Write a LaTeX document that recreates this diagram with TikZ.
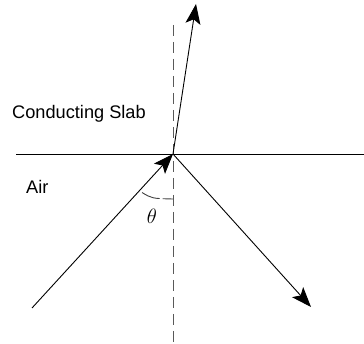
\documentclass[tikz,border=0pt]{standalone}
\usepackage{fontspec}
\setmainfont{Liberation Sans}
\usetikzlibrary{arrows.meta}
\begin{document}
\begin{tikzpicture}[x=1pt,y=-1pt,
  ray/.style={line width=0.9pt,-{Stealth[length=20pt,width=15pt,inset=4.5pt]}},
  plain/.style={line width=0.9pt},
  normal/.style={line width=1pt,draw=black!65,dash pattern=on 11pt off 6pt},
  anglemark/.style={line width=0.9pt,draw=black!75,dash pattern=on 19pt off 3pt},
  lbl/.style={font=\fontsize{18.2}{21}\selectfont,inner sep=0pt}]
\useasboundingbox (0,0) rectangle (364,344);
\coordinate (O) at (173,154);
\coordinate (L) at (16,154);
\coordinate (R) at (364,154);
\coordinate (Ntop) at (173,25);
\coordinate (Nbot) at (173,344);
\coordinate (In) at (32,308);
\coordinate (Refl) at (311,307);
\coordinate (Refr) at (196,4);
\coordinate (A1) at (142,192.5);
\coordinate (A2) at (173,199);
\draw[plain] (L) -- (R);
\draw[normal] (Ntop) -- (Nbot);
\draw[ray] (In) -- (O);
\draw[ray] (O) -- (Refl);
\draw[ray] (O) -- (Refr);
\draw[anglemark] (A1) .. controls (152,198.5) .. (A2);
\node[lbl,anchor=west] (slab) at (12,113.5) {Conducting Slab};
\node[lbl,anchor=west] (air) at (26,187) {Air};
\node[inner sep=0pt,font=\fontsize{21}{24}\selectfont] (theta) at (152,216) {$\theta$};
\end{tikzpicture}
\end{document}
